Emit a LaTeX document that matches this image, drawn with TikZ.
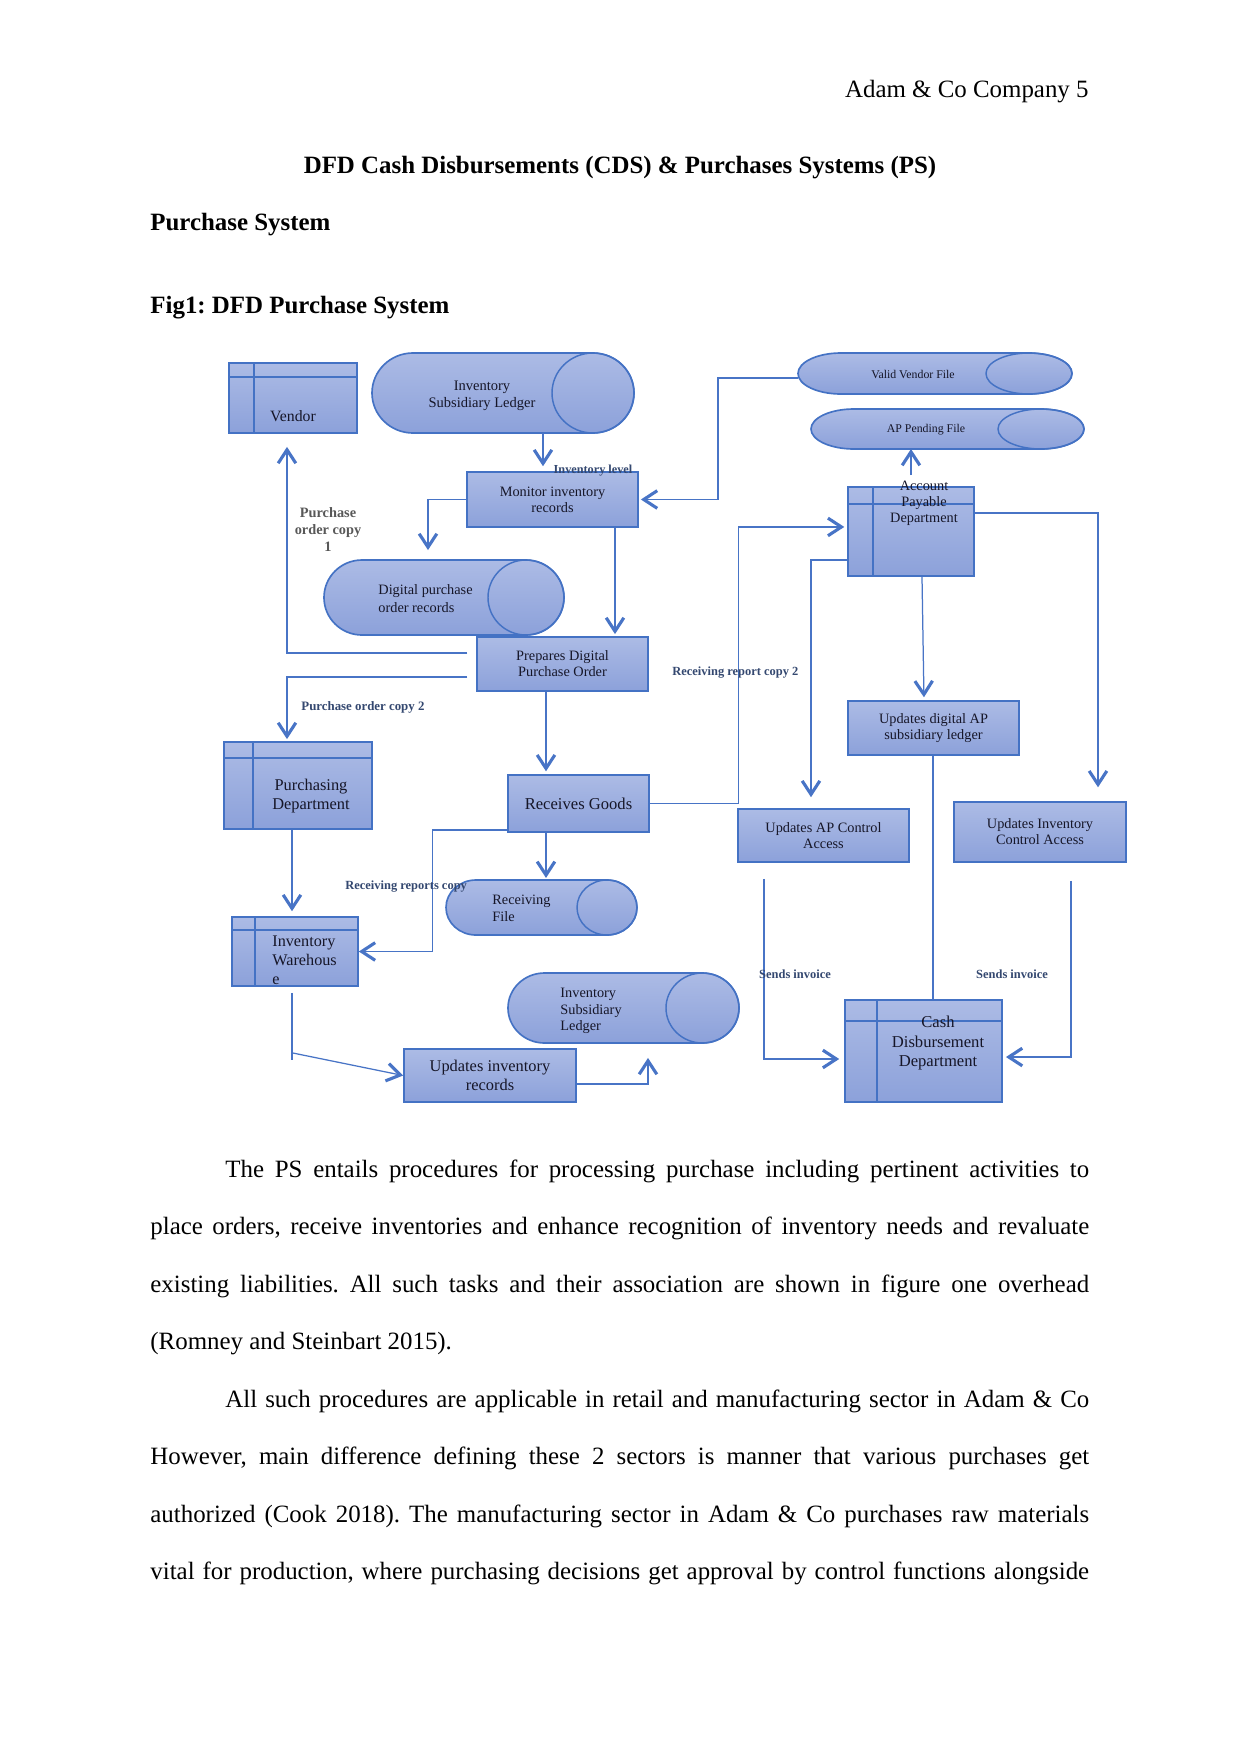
\documentclass[tikz,border=0pt]{standalone}
\usepackage{fontspec}
\setmainfont{Liberation Serif}
\frenchspacing
\usetikzlibrary{arrows.meta,fit,calc}
\definecolor{bordc}{RGB}{68,114,196}
\definecolor{linec}{RGB}{72,116,198}
\definecolor{ftop}{RGB}{172,187,229}
\definecolor{fbot}{RGB}{140,161,218}
\definecolor{txtc}{RGB}{22,22,40}
\definecolor{lblue}{RGB}{52,72,112}
\definecolor{lgray}{RGB}{88,88,88}
\newcommand\fs[2]{\fontsize{#1}{#2}\selectfont}
\newcommand\cylshape[3]{%
  \path[shapefill] ($(#1.north west)+(#2,0)$) -- ($(#1.north east)+(-#2,0)$)
     arc[start angle=-90,end angle=90,x radius=#2,y radius=#3]
     -- ($(#1.south west)+(#2,0)$)
     arc[start angle=90,end angle=270,x radius=#2,y radius=#3] -- cycle;
  \draw[bordc,line width=0.7pt] ($(#1.east)+(-#2,0)$) ellipse[x radius=#2,y radius=#3];
}
\tikzset{
  shapefill/.style={top color=ftop, bottom color=fbot, draw=bordc, line width=0.8pt},
  procbox/.style={shapefill, text=txtc, align=center, font=\fs{6.9}{7.7}},
  sz/.style 2 args={minimum width=#1*0.4818pt, minimum height=#2*0.4818pt},
  deptbox/.style={shapefill},
  holder/.style={outer sep=0pt},
  innerln/.style={draw=bordc, line width=0.7pt},
  btxt/.style={text=txtc, align=center},
  lbl/.style={text=lblue, font=\bfseries\fs{6}{7}},
  conn/.style={draw=linec, line width=0.6pt},
  flow/.style={conn, -{Straight Barb[length=6.5pt,width=8.5pt,line width=1.5pt]}},
  body/.style={anchor=base west, font=\fs{12}{14}},
}
\begin{document}
\begin{tikzpicture}[x=0.0169333cm, y=-0.0169333cm, every node/.append style={inner sep=0pt}]
\useasboundingbox[fill=white] (0,0) rectangle (1241,1754);

% ---------- page text ----------
\node[anchor=base east, font=\fs{12}{14}] (hdr) at (1089,97) {Adam \& Co Company 5};
\node[anchor=base, font=\bfseries\fs{12}{14}] (title) at (620,173) {DFD Cash Disbursements (CDS) \& Purchases Systems (PS)};
\node[anchor=base west, font=\bfseries\fs{12}{14}] (psys) at (150,230) {Purchase System};
\node[anchor=base west, font=\bfseries\fs{12}{14}] (figcap) at (150,313) {Fig1: DFD Purchase System};

\node[body] (p1a) at (225,1177) {\makebox[416.3pt][s]{The PS entails procedures for processing purchase including pertinent activities to}};
\node[body] (p1b) at (150,1234) {\makebox[452.4pt][s]{place orders, receive inventories and enhance recognition of inventory needs and revaluate}};
\node[body] (p1c) at (150,1292) {\makebox[452.4pt][s]{existing liabilities. All such tasks and their association are shown in figure one overhead}};
\node[body] (p1d) at (150,1349) {(Romney and Steinbart 2015).};
\node[body] (p2a) at (225,1407) {\makebox[416.3pt][s]{All such procedures are applicable in retail and manufacturing sector in Adam \& Co}};
\node[body] (p2b) at (150,1464) {\makebox[452.4pt][s]{However, main difference defining these 2 sectors is manner that various purchases get}};
\node[body] (p2c) at (150,1522) {\makebox[452.4pt][s]{authorized (Cook 2018). The manufacturing sector in Adam \& Co purchases raw materials}};
\node[body] (p2d) at (150,1579) {\makebox[452.4pt][s]{vital for production, where purchasing decisions get approval by control functions alongside}};

% ---------- data stores (cylinders) ----------
\node[holder, fit={(372,353) (634,433)}] (L1) {};
\cylshape{L1}{41}{40}
\node[btxt, font=\fs{7}{8.2}] (L1t) at (482,395.5) {Inventory\\Subsidiary Ledger};

\node[holder, fit={(798,353) (1072,394)}] (VVF) {};
\cylshape{VVF}{43}{20.5}
\node[btxt, font=\fs{5.7}{6.5}] (VVFt) at (913,374) {Valid Vendor File};

\node[holder, fit={(811,409) (1084,449)}] (APP) {};
\cylshape{APP}{43}{20}
\node[btxt, font=\fs{5.7}{6.5}] (APPt) at (926,430) {AP Pending File};

\node[holder, fit={(324,560) (564,635)}] (DPO) {};
\cylshape{DPO}{38}{37.5}
\node[btxt, align=left, anchor=west, font=\fs{6.9}{8.6}] (DPOt) at (378,599) {Digital purchase\\order records};

\node[holder, fit={(446,880) (637,935)}] (RF) {};
\cylshape{RF}{30}{27.5}
\node[btxt, align=left, anchor=west, font=\fs{6.9}{8.2}] (RFt) at (492,908.5) {Receiving\\File};

\node[holder, fit={(508,973) (739,1043)}] (L2) {};
\cylshape{L2}{36.5}{35}
\node[btxt, align=left, anchor=west, font=\fs{6.9}{7.9}] (L2t) at (560,1011) {Inventory\\Subsidiary\\Ledger};

% ---------- external entities / departments ----------
\node[deptbox, fit={(229,363) (357,433)}] (Vendor) {};
\draw[innerln] (Vendor.north -| 254,0) -- (Vendor.south -| 254,0);
\draw[innerln] (Vendor.west |- 0,377) -- (Vendor.east |- 0,377);
\node[btxt, font=\fs{7.6}{8.5}] (Vendort) at (293,416) {Vendor};

\node[deptbox, fit={(224,742) (372,829)}] (Purch) {};
\draw[innerln] (Purch.north -| 253,0) -- (Purch.south -| 253,0);
\draw[innerln] (Purch.west |- 0,758) -- (Purch.east |- 0,758);
\node[btxt, font=\fs{7.9}{9.1}] (Purcht) at (311,796) {Purchasing\\Department};

\node[deptbox, fit={(232,917) (358,986)}] (WH) {};
\draw[innerln] (WH.north -| 255,0) -- (WH.south -| 255,0);
\draw[innerln] (WH.west |- 0,930) -- (WH.east |- 0,930);
\node[btxt, align=left, anchor=west, font=\fs{7.8}{9.1}] (WHt) at (272,960) {Inventory\\Warehous\\e};

\node[deptbox, fit={(848,487) (974,576)}] (AP) {};
\draw[innerln] (AP.north -| 873,0) -- (AP.south -| 873,0);
\draw[innerln] (AP.west |- 0,504) -- (AP.east |- 0,504);
\node[btxt, font=\fs{6.9}{7.7}] (APt) at (924,503) {Account\\Payable\\Department};

\node[deptbox, fit={(845,1000) (1002,1102)}] (Cash) {};
\draw[innerln] (Cash.north -| 877,0) -- (Cash.south -| 877,0);
\draw[innerln] (Cash.west |- 0,1021) -- (Cash.east |- 0,1021);
\node[btxt, font=\fs{8}{9.4}] (Casht) at (938,1043) {Cash\\Disbursement\\Department};

% ---------- processes ----------
\node[procbox, sz={171}{55}] (Mon) at (552.5,499.5) {Monitor inventory\\records};
\node[procbox, sz={171}{54}] (PDO) at (562.5,664) {Prepares Digital\\Purchase Order};
\node[procbox, sz={141}{57}, font=\fs{8}{9}] (RG) at (578.5,803.5) {Receives Goods};
\node[procbox, sz={171}{54}] (UDA) at (933.5,728) {Updates digital AP\\subsidiary ledger};
\node[procbox, sz={171}{53}] (UAC) at (823.5,835.5) {Updates AP Control\\Access};
\node[procbox, sz={172}{60}] (UIC) at (1040,832) {Updates Inventory\\Control Access};
\node[procbox, sz={172}{53}, font=\fs{7.9}{9.1}] (UIR) at (490,1075.5) {Updates inventory\\records};

% ---------- connectors ----------
\draw[flow, shorten >=2.4pt] (L1.south -| 543,0) -- (Mon.north -| 543,0);
\draw[flow, shorten >=1pt] ([yshift=-2.2pt]VVF.west) -- ++(-80,0) |- (Mon.east);
\draw[flow, shorten >=4.8pt] (Mon.west) -| (DPO.north -| 428,0);
\draw[flow, shorten >=1pt] (Mon.south -| 615,0) -- (PDO.north -| 615,0);
\draw[flow, shorten <=4.3pt, shorten >=6.3pt] ([yshift=5.3pt]PDO.west) -| (Vendor.south -| 287,0);
\draw[flow, shorten <=4.3pt, shorten >=1pt] ([yshift=-6.3pt]PDO.west) -| (Purch.north -| 287,0);
\draw[flow, shorten >=1.4pt] (PDO.south -| 546,0) -- (RG.north -| 546,0);
\draw[flow, shorten >=1.4pt] (RG.east) -- ++(89,0) |- ([yshift=2.2pt]AP.west);
\draw[flow, shorten <=2.5pt] (APt.north -| 911,0) -- (APP.south -| 911,0);
\draw[flow, shorten >=5.3pt] ([yshift=-13.7pt]AP.west) -| (UAC.north -| 811,0);
\draw[flow, shorten >=1.4pt] (AP.south -| 922,0) -- (UDA.north -| 924,0);
\draw[flow, shorten >=6.7pt] ([yshift=8.9pt]AP.east) -| (UIC.north -| 1098,0);
\draw[conn] (UDA.south -| 933,0) -- (Cash.north -| 933,0);
\draw[flow, shorten <=7.7pt, shorten >=2.4pt] (UAC.south -| 764,0) |- ([yshift=-3.85pt]Cash.west);
\draw[flow, shorten <=8.7pt, shorten >=1.5pt] (UIC.south -| 1071,0) |- ([yshift=-2.9pt]Cash.east);
\draw[flow, shorten >=2.4pt] (Purch.south -| 292,0) -- (WH.north -| 292,0);
\draw[flow] ([yshift=1.4pt]RG.south west) -- ++(-75,0) |- (WH.east);
\draw[flow, shorten >=1pt] (RG.south -| 546,0) -- (RF.north -| 546,0);
\draw[conn, shorten <=2.9pt] (WH.south -| 292,0) -- ++(0,73);
\draw[flow] ($(WH.south -| 292,0)+(0,66)$) -- (UIR.west);
\draw[flow, shorten >=7.2pt] ([yshift=-4.1pt]UIR.east) -| (L2.south -| 648,0);

% ---------- labels ----------
\node[lbl, font=\bfseries\fs{5.9}{7}] (lvl) at (593,471) {Inventory level};
\node[lbl, text=lgray, align=center, font=\bfseries\fs{6.9}{8.2}] (poc1) at (328,530) {Purchase\\order copy\\1};
\node[lbl, anchor=west, font=\bfseries\fs{6.2}{7}] (poc2) at (301,707) {Purchase order copy 2};
\node[lbl, anchor=west] (rrc2) at (672,673) {Receiving report copy 2};
\node[lbl, anchor=west] (rrc) at (345,887) {Receiving reports copy};
\node[lbl] (si1) at (795,974) {Sends invoice};
\node[lbl] (si2) at (1012,974) {Sends invoice};
\end{tikzpicture}
\end{document}
